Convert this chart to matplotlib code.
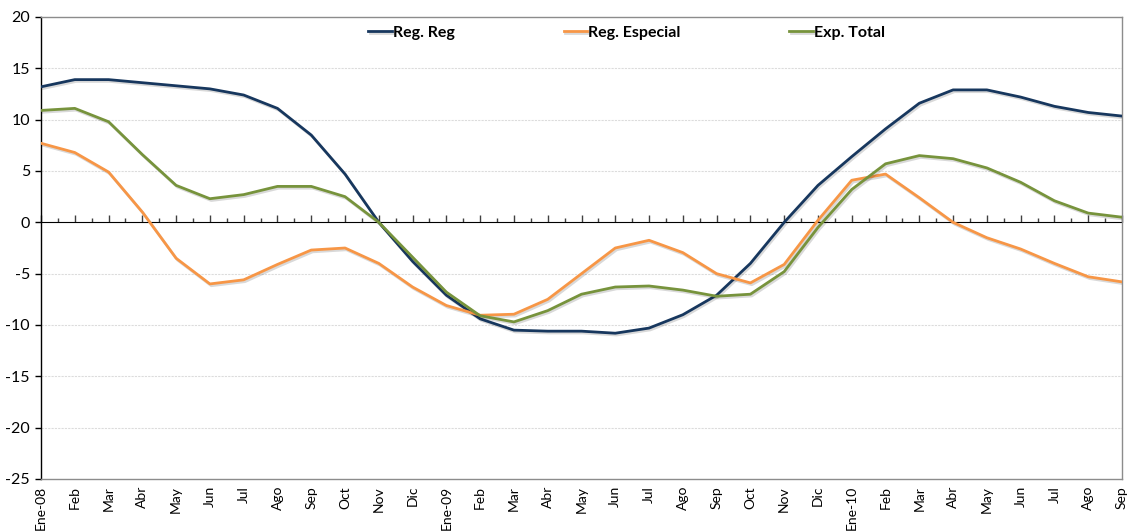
import matplotlib
matplotlib.use("Agg")
import matplotlib.pyplot as plt
import matplotlib.patheffects as pe
from matplotlib.ticker import MultipleLocator

plt.rcParams['font.family'] = ['Lato', 'DejaVu Sans']
plt.rcParams['axes.unicode_minus'] = False

meses = ['Ene-08', 'Feb', 'Mar', 'Abr', 'May', 'Jun', 'Jul', 'Ago', 'Sep', 'Oct', 'Nov', 'Dic',
         'Ene-09', 'Feb', 'Mar', 'Abr', 'May', 'Jun', 'Jul', 'Ago', 'Sep', 'Oct', 'Nov', 'Dic',
         'Ene-10', 'Feb', 'Mar', 'Abr', 'May', 'Jun', 'Jul', 'Ago', 'Sep']

reg_reg = [13.2, 13.9, 13.9, 13.6, 13.3, 13.0, 12.4, 11.1, 8.5, 4.7, 0.0, -3.8,
           -7.1, -9.4, -10.5, -10.6, -10.6, -10.8, -10.3, -9.0, -7.1, -4.0, 0.0, 3.6,
           6.4, 9.1, 11.6, 12.9, 12.9, 12.2, 11.3, 10.7, 10.35]
reg_especial = [7.7, 6.8, 4.9, 1.0, -3.5, -6.0, -5.6, -4.1, -2.7, -2.5, -4.0, -6.3,
                -8.1, -9.05, -8.95, -7.5, -5.0, -2.5, -1.75, -2.95, -5.0, -5.9, -4.1, 0.2,
                4.1, 4.7, 2.4, 0.0, -1.5, -2.6, -4.0, -5.3, -5.8]
exp_total = [10.9, 11.1, 9.8, 6.6, 3.6, 2.3, 2.7, 3.5, 3.5, 2.5, 0.0, -3.4,
             -6.8, -9.1, -9.7, -8.6, -7.0, -6.3, -6.2, -6.6, -7.2, -7.0, -4.8, -0.5,
             3.2, 5.7, 6.5, 6.2, 5.3, 3.9, 2.1, 0.9, 0.5]

series = [('Reg. Reg', reg_reg, '#17375E'),
          ('Reg. Especial', reg_especial, '#F79646'),
          ('Exp. Total', exp_total, '#77933C')]

fig = plt.figure(figsize=(11.28, 5.31), dpi=100)
ax = fig.add_axes([41 / 1128, 1 - 479 / 531, (1122 - 41) / 1128, (479 - 17) / 531])

x = list(range(len(meses)))
shadow = [pe.SimpleLineShadow(offset=(1.0, -1.3), shadow_color='black', alpha=0.15),
          pe.Normal()]
for nombre, vals, color in series:
    ax.plot(x, vals, color=color, lw=2.0, label=nombre, path_effects=shadow,
            solid_joinstyle='round', zorder=3)

ax.set_xlim(0, len(meses) - 1)
ax.set_ylim(-25, 20)
ax.yaxis.set_major_locator(MultipleLocator(5))
for y in range(-20, 20, 5):
    if y != 0:
        ax.axhline(y, color='#dcdcdc', lw=0.8, ls=(0, (2, 1)), zorder=1)

ax.set_xticks(x)
ax.set_xticklabels(meses, rotation=90, fontsize=10, va='top')
ax.tick_params(axis='x', length=0, pad=5)
ax.tick_params(axis='y', length=4, width=1, labelsize=11.5, pad=4)

ax.spines['left'].set_color('black')
ax.spines['left'].set_linewidth(1)
for s in ['top', 'right', 'bottom']:
    ax.spines[s].set_color('#8c8c8c')
    ax.spines[s].set_linewidth(1)

# eje de las x en el cero
eje0 = ax.secondary_xaxis(25 / 45)
eje0.set_xticks(x)
eje0.xaxis.set_minor_locator(MultipleLocator(0.5))
eje0.tick_params(axis='x', which='major', direction='out', length=5, width=1,
                 color='#404040', labelbottom=False, labeltop=False)
eje0.tick_params(axis='x', which='minor', direction='out', length=3, width=1, color='#404040')
eje0.spines['bottom'].set_color('#404040')
eje0.spines['bottom'].set_linewidth(1.2)

ax.legend(loc='upper left', bbox_to_anchor=(354 / 1128, 1 - 11 / 531), bbox_transform=fig.transFigure,
          ncol=3, frameon=False, handlelength=1.45, handletextpad=0.1, columnspacing=6.8,
          prop={'weight': 'bold', 'size': 11.5})

fig.savefig('out.png', dpi=100)
